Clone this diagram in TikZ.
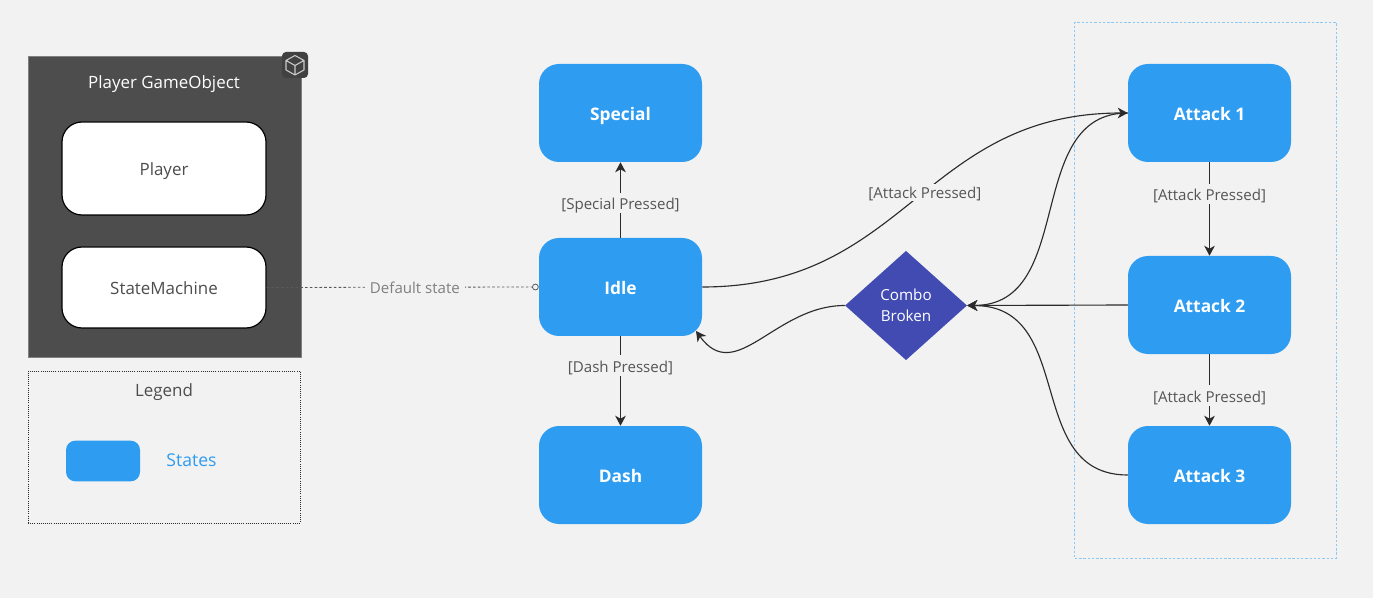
\documentclass[tikz,border=0pt]{standalone}
\usepackage{fontspec}
\setmainfont{Open Sans}
\usetikzlibrary{arrows.meta,shapes.geometric}
\definecolor{canvas}{HTML}{F2F2F2}
\definecolor{stateblue}{HTML}{2E9CF1}
\definecolor{combo}{HTML}{414BB2}
\definecolor{goGrey}{HTML}{4D4D4D}
\definecolor{ink}{HTML}{2B2B2B}
\definecolor{labelgrey}{HTML}{555555}
\tikzset{
  x=0.75pt, y=-0.75pt,
  post/.style    = {-{Stealth[length=7.5pt,width=8pt,inset=2.2pt]}, draw=ink, line width=0.85pt},
  pre/.style     = {{Stealth[length=7.5pt,width=8pt,inset=2.2pt]}-, draw=ink, line width=0.85pt},
  statebox/.style = {fill=stateblue, rounded corners=15pt, minimum width=122.25pt, minimum height=73.5pt, inner sep=0pt, text=white, text height=10.8pt, text depth=0pt, font=\fontsize{13}{15}\selectfont\bfseries},
  component/.style = {draw=black, line width=0.9pt, fill=white, rounded corners=15pt, minimum width=153pt, inner sep=0pt, text=goGrey, text height=10.6pt, text depth=0pt, font=\fontsize{12.7}{15}\selectfont},
  decision/.style = {diamond, fill=combo, aspect=1.12, minimum width=91.5pt, minimum height=82pt, inner sep=0pt, text=white, align=center, font=\fontsize{11.4}{15.75}\selectfont},
  edgelabel/.style = {fill=canvas, inner xsep=1.5pt, inner ysep=3pt, text=labelgrey, text height=9.5pt, text depth=0pt, font=\fontsize{11.3}{13}\selectfont},
  frame/.style = {minimum width=#1, inner sep=0pt}
}
\begin{document}
\begin{tikzpicture}
      \fill[canvas] (0,0) rectangle (1373,598);
      \useasboundingbox (0,0) rectangle (1373,598);
      % left column
      \node[frame=204.75pt, fill=goGrey, draw=gray, minimum height=225.75pt] (gameobject) at (164.5,206.5) {};
      \node[text=white, font=\fontsize{12.7}{15}\selectfont] (title) at (164,84) {Player GameObject};
      \node[component, minimum height=69.75pt] (player) at (164,168.5) {Player};
      \node[component, minimum height=60.75pt] (machine) at (164,287.5) {StateMachine};
      \node[frame=204pt, draw=ink, densely dotted, line width=0.6pt, minimum height=114pt] (legend) at (164,447) {};
      \node[text=goGrey, font=\fontsize{12.7}{15}\selectfont] (legendtitle) at (164,392) {Legend};
      \node[fill=stateblue, rounded corners=7pt, minimum width=55.5pt, minimum height=30.5pt, inner sep=0pt] (legendstate) at (103,461) {};
      \node[text=stateblue, font=\fontsize{13.2}{15}\selectfont] (legendtext) at (191.5,460) {States};
      % unity icon
      \node[fill=goGrey!85!black, rounded corners=3pt, minimum size=19.5pt, inner sep=0pt] (icon) at (295,65) {};
      \draw[white!70!goGrey, line width=0.8pt, line join=round] (295,55.5) -- (304,60.5) -- (304,70) -- (295,75) -- (286,70) -- (286,60.5) -- cycle
        (286,60.5) -- (295,65.5) -- (304,60.5) (295,65.5) -- (295,75);
      % attack group
      \node[frame=196pt, draw=stateblue!55, dash pattern=on 1.8pt off 1.4pt, line width=0.6pt, minimum height=402pt] (attacks) at (1205.5,290) {};
      % states
      \node[statebox] (special) at (620.5,113) {Special};
      \node[statebox] (idle) at (620.5,287) {Idle}
      edge [post] node [edgelabel, pos=.46] {[Special Pressed]} (special);
      \node[statebox] (dash) at (620.5,475) {Dash}
      edge [pre] node [edgelabel, pos=.67] {[Dash Pressed]} (idle);
      \node[statebox] (attack1) at (1209.5,113) {Attack 1};
      \node[statebox] (attack2) at (1209.5,305) {Attack 2}
      edge [pre] node [edgelabel, pos=.66] {[Attack Pressed]} (attack1);
      \node[statebox] (attack3) at (1209.5,475) {Attack 3}
      edge [pre] node [edgelabel, pos=.42] {[Attack Pressed]} (attack2);
      \node[decision] (broken) at (906,305.5) {Combo\\Broken};
      \coordinate (idlecorner) at (696,331);
      % connectors
      \draw[post] (attack2.west) -- (broken.east);
      \draw[post] (attack3.west) .. controls +(-105,0) and +(110,0) .. (broken.east);
      \draw[post] (attack1.west) .. controls +(-105,0) and +(110,0) .. (broken.east);
      \draw[post] (idle.east) .. controls +(205,0) and +(-205,0) .. node [edgelabel, pos=.53, inner ysep=1.5pt] {[Attack Pressed]} (attack1.west);
      \draw[post] (broken.west) .. controls +(-70,0) and +(40,55) .. (idlecorner);
      \draw[gray!70!black, dash pattern=on 2pt off 1.6pt, line width=0.6pt, -{Circle[open,length=5pt,width=5pt,fill=canvas]}] (machine.east) -- node [edgelabel, text=gray, pos=.545, inner xsep=4pt] {Default state} (idle.west);
    \end{tikzpicture}
\end{document}
